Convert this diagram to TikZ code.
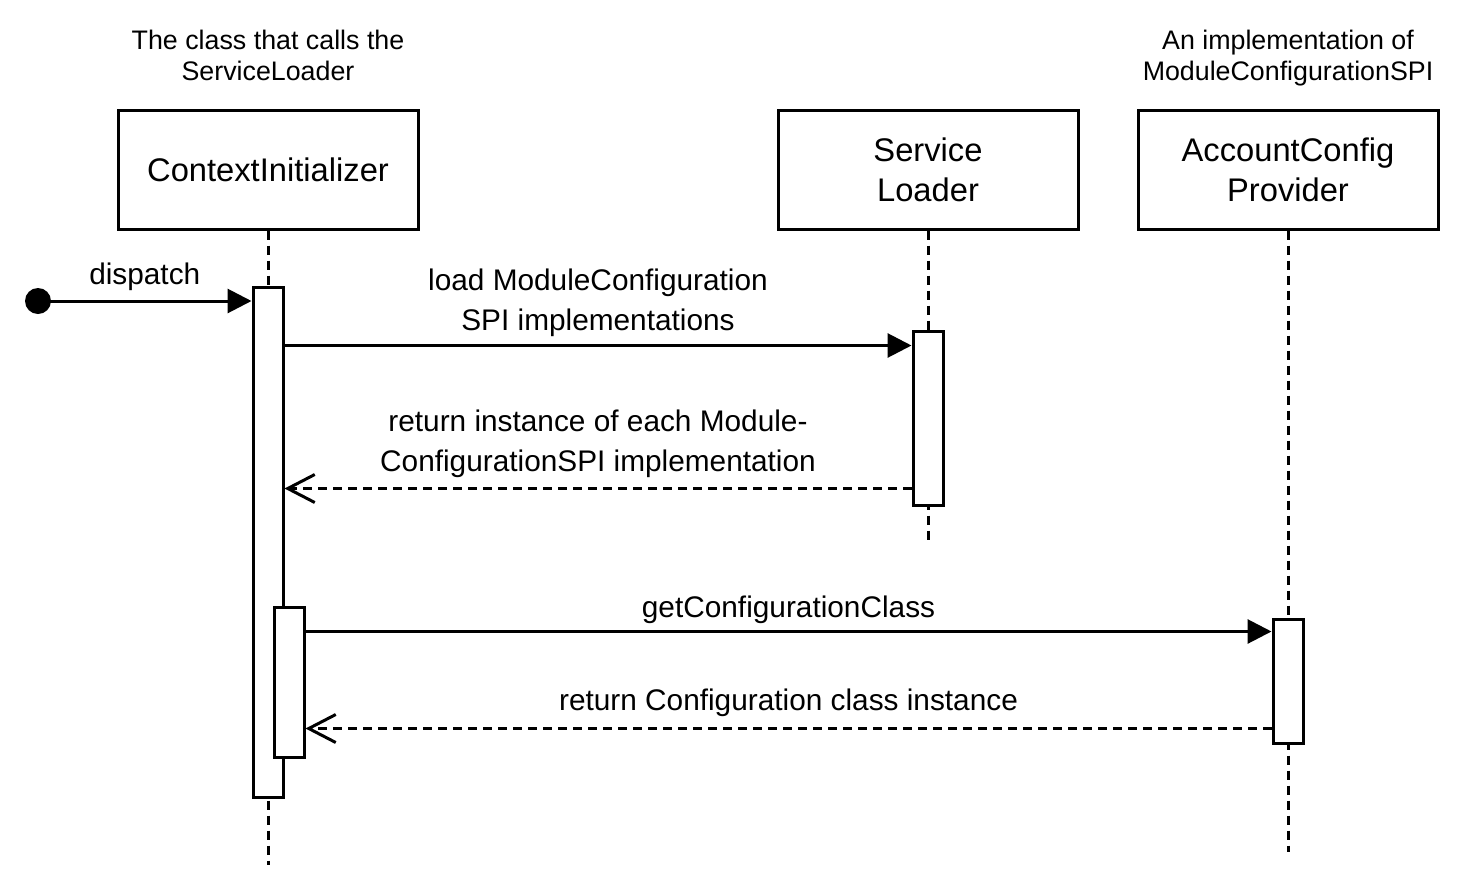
\documentclass[tikz,border=0pt]{standalone}
\usepackage{fontspec}
\setmainfont{Liberation Sans}
\usetikzlibrary{arrows.meta}

\begin{document}
\begin{tikzpicture}[x=1pt,y=-1pt,line width=3pt]
  \tikzstyle{object}=[draw, rectangle, minimum width=300pt, minimum height=119pt, inner sep=0pt, align=center, font=\fontsize{32.7}{40}\selectfont]
  \tikzstyle{note}=[align=center, inner sep=0pt, anchor=base, font=\fontsize{26.8}{30.5}\selectfont]
  \tikzstyle{activation}=[draw, fill=white, rectangle, minimum width=30pt, inner sep=0pt]
  \tikzstyle{lifeline}=[dash pattern=on 9pt off 6pt]
  \tikzstyle{call}=[-{Triangle[length=24pt,width=24pt]}]
  \tikzstyle{reply}=[dash pattern=on 9pt off 6pt, -{Straight Barb[length=27pt,width=28pt]}]
  \tikzstyle{msg}=[align=center, inner sep=0pt, anchor=base, font=\fontsize{29.8}{40}\selectfont]
  \useasboundingbox (0,0) rectangle (1470,876);
  % objects
  \node[object] (ci) at (268,169.5) {ContextInitializer};
  \node[object] (sl) at (928,169.5) {Service\\Loader};
  \node[object] (acp) at (1288,169.5) {AccountConfig\\Provider};
  % notes
  \node[note] (cinote) at (268,80) {The class that calls the\\ServiceLoader};
  \node[note] (acpnote) at (1288,80) {An implementation of\\ModuleConfigurationSPI};
  % lifelines
  \coordinate (ciend) at (268,865);
  \coordinate (slend) at (928,540);
  \coordinate (acpend) at (1288,852);
  \draw[lifeline] (ci) -- (ciend);
  \draw[lifeline] (sl) -- (slend);
  \draw[lifeline] (acp) -- (acpend);
  % activations
  \node[activation, minimum height=510pt] (act1) at (268,542) {};
  \node[activation, minimum height=150pt] (act1b) at (289,682) {};
  \node[activation, minimum height=174pt] (act2) at (928,418) {};
  \node[activation, minimum height=124pt] (act3) at (1288,681) {};
  % dispatch
  \node[circle, fill, minimum size=26pt, inner sep=0pt] (start) at (38,301) {};
  \draw[call] (start.center) -- (start -| act1.west)
    node[msg, midway, yshift=17pt] {dispatch};
  % messages
  \coordinate (load) at ([yshift=-16pt]act2.north west);
  \coordinate (ret) at ([yshift=18pt]act2.south west);
  \coordinate (get) at ([yshift=-14pt]act3.north west);
  \coordinate (back) at ([yshift=16pt]act3.south west);
  \draw[call] (load -| act1.east) -- (load)
    node[msg, midway, yshift=15pt] {load ModuleConfiguration\\SPI implementations};
  \draw[reply] (ret) -- (ret -| act1.east)
    node[msg, midway, yshift=17pt] {return instance of each Module-\\ConfigurationSPI implementation};
  \draw[call] (get -| act1b.east) -- (get)
    node[msg, midway, yshift=14pt] {getConfigurationClass};
  \draw[reply] (back) -- (back -| act1b.east)
    node[msg, midway, yshift=18pt] {return Configuration class instance};
\end{tikzpicture}
\end{document}
